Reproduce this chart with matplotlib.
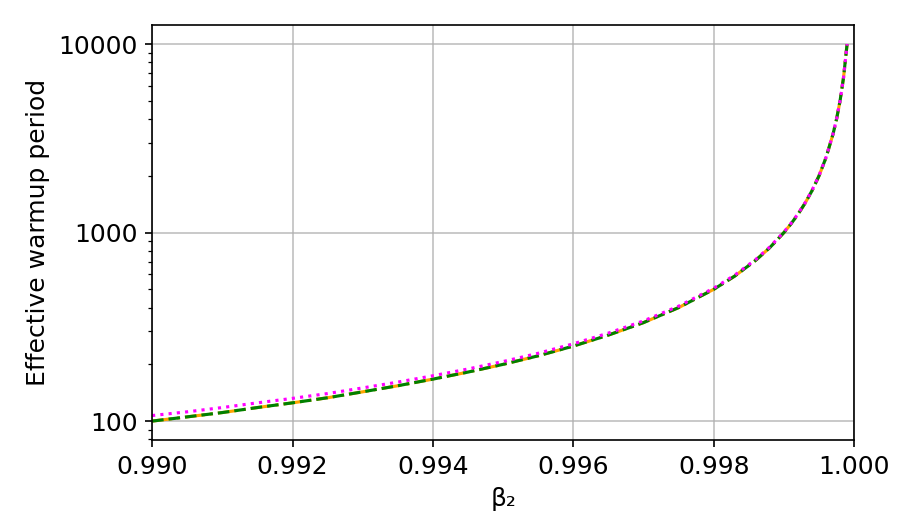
import matplotlib
matplotlib.use("Agg")
import matplotlib.pyplot as plt
from matplotlib.ticker import ScalarFormatter, NullFormatter, FormatStrFormatter

plt.rcParams['font.size'] = 12

beta2 = [0.9900, 0.9905, 0.9910, 0.9915, 0.9920, 0.9925, 0.9930, 0.9935, 0.9940,
         0.9945, 0.9950, 0.9955, 0.9960, 0.9965, 0.9970, 0.9975, 0.9980, 0.9983,
         0.9986, 0.9988, 0.9990, 0.9991, 0.9992, 0.9993, 0.9994, 0.9995, 0.9996,
         0.9997, 0.99975, 0.9998, 0.99985, 0.9999]

warmup_orange = [100, 105.3, 111, 118, 125, 133, 143, 154, 167, 182, 200, 222, 250,
                 286, 333, 400, 500, 588, 714, 833, 1000, 1111, 1250, 1429, 1667,
                 2000, 2500, 3333, 4000, 5000, 6667, 10000]
warmup_green = [100, 105.3, 111, 118, 125, 133, 143, 154, 167, 182, 200, 222, 250,
                286, 333, 400, 500, 588, 714, 833, 1000, 1111, 1250, 1429, 1667,
                2000, 2500, 3333, 4000, 5000, 6667, 10000]
warmup_magenta = [107, 112, 118, 125, 132, 140, 150, 161, 174, 189, 207, 229, 257,
                  293, 340, 407, 507, 595, 721, 840, 1007, 1118, 1257, 1436, 1674,
                  2007, 2507, 3340, 4007, 5007, 6674, 10007]

xticks = [0.990, 0.992, 0.994, 0.996, 0.998, 1.000]
yticks = [100, 1000, 10000]

fig, ax = plt.subplots(figsize=(6, 3.5), dpi=150)
fig.subplots_adjust(left=0.169, right=0.949, bottom=0.162, top=0.952)

ax.plot(beta2, warmup_orange, color='orange', linestyle='-.', lw=1.5)
ax.plot(beta2, warmup_green, color='green', linestyle='--', lw=1.5)
ax.plot(beta2, warmup_magenta, color='magenta', linestyle=':', lw=1.5)

ax.set_yscale('log')
ax.set_xlim(0.990, 1.000)
ax.set_xticks(xticks)
ax.xaxis.set_major_formatter(FormatStrFormatter('%.3f'))
ax.set_yticks(yticks)
ax.yaxis.set_major_formatter(ScalarFormatter())
ax.yaxis.set_minor_formatter(NullFormatter())
ax.grid(True, which='major', color='#b0b0b0', alpha=0.8)
ax.set_xlabel('β₂')
ax.set_ylabel('Effective warmup period')

fig.savefig('out.png', dpi=150)
